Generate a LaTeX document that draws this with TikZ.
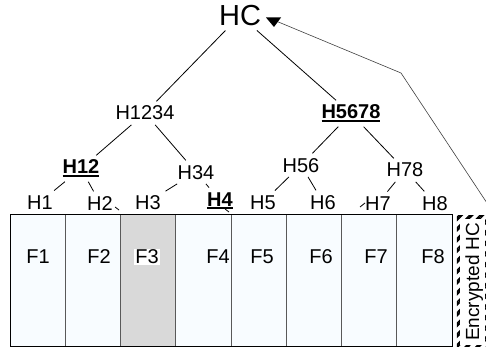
\documentclass[tikz,border=0pt]{standalone}
\usepackage{fontspec}
\setmainfont{Liberation Sans}
\usetikzlibrary{patterns.meta}

% bold hash with a thick underline
\newcommand{\bul}[1]{\setbox0\hbox{\bfseries #1}\copy0\llap{\rule[-3pt]{\wd0}{1.6pt}}}

\tikzset{
  hash/.style={font=\fontsize{20}{23}\selectfont, inner sep=4.5pt, anchor=base},
  flabel/.style={font=\fontsize{20}{23}\selectfont, inner sep=1pt},
  edge/.style={draw=black, line width=0.8pt},
  col/.style={draw=black!65, line width=0.9pt, fill={rgb,255:red,248;green,252;blue,255}},
}

\begin{document}
\begin{tikzpicture}[x=1pt,y=-1pt]
\useasboundingbox (0,0) rectangle (486,347);

% file blocks
\foreach \i in {0,...,7}
  \draw[col] ({10+55.25*\i},214) rectangle ++(55.25,132);
\draw[col, fill={rgb,255:red,217;green,217;blue,217}] (120.5,214) rectangle ++(55.25,132);
\draw[line width=1pt] (10,214) rectangle (452,346);

% block labels
\node[flabel] (f1) at (38,257) {F1};
\node[flabel] (f2) at (99,257) {F2};
\node[flabel, fill=white] (f3) at (147,257) {F3};
\node[flabel] (f4) at (218,257) {F4};
\node[flabel] (f5) at (262,257) {F5};
\node[flabel] (f6) at (321,257) {F6};
\node[flabel] (f7) at (376,257) {F7};
\node[flabel] (f8) at (433,257) {F8};

% encrypted root
\node[minimum width=31pt, minimum height=132pt, inner sep=0pt, anchor=north west,
      pattern={Lines[angle=45,distance=7.5pt,line width=3.6pt]}] (enc) at (455,214) {};
\fill[white] ([shift={(5,5)}]enc.north west) rectangle ([shift={(-5,-5)}]enc.south east);
\node[rotate=90, font=\fontsize{19}{21}\selectfont, inner sep=0pt] (enctext) at ([xshift=2pt]enc.center) {Encrypted HC};

% hash tree
\node[hash, font=\fontsize{29}{32}\selectfont] (hc) at (240,25.5) {HC};
\node[hash] (h1234) at (145,120) {H1234};
\node[hash] (h5678) at (351,119) {\bul{H5678}};
\node[hash] (h12) at (81,174) {\bul{H12}};
\node[hash] (h34) at (196,179) {H34};
\node[hash] (h56) at (301,172) {H56};
\node[hash] (h78) at (405,177) {H78};
\node[hash] (h1) at (40,209) {H1};
\node[hash] (h2) at (100,210) {H2};
\node[hash] (h3) at (148,209) {H3};
\node[hash] (h4) at (220,206) {\bul{H4}};
\node[hash] (h5) at (263,209) {H5};
\node[hash] (h6) at (323,209) {H6};
\node[hash] (h7) at (378,210) {H7};
\node[hash] (h8) at (435,210) {H8};

% tree edges
\draw[edge] (hc) -- (h1234);
\draw[edge] (hc) -- (h5678);
\draw[edge] (h1234) -- (h12);
\draw[edge] (h1234) -- (h34);
\draw[edge] (h5678) -- (h56);
\draw[edge] (h5678) -- (h78);
\draw[edge] (h12) -- (h1);
\draw[edge] (h12) -- (h2);
\draw[edge] (h34) -- (h3);
\draw[edge] (h34) -- (h4);
\draw[edge] (h56) -- (h5);
\draw[edge] (h56) -- (h6);
\draw[edge] (h78) -- (h7);
\draw[edge] (h78) -- (h8);

% stubs
\draw[edge] (115,207) -- (119,210);
\draw[edge] (225,209) -- (229,212);
\draw[edge] (360,207) -- (365,203);

% link back to the root
\coordinate (bend) at (401,73);
\coordinate (tip) at (276,21);
\draw[draw=black!75, line width=0.6pt] ([yshift=7pt]enc.north east) -- (bend) -- (tip);
\fill (266,17.5) -- (281,17.5) -- (274,27) -- cycle;
\end{tikzpicture}
\end{document}
